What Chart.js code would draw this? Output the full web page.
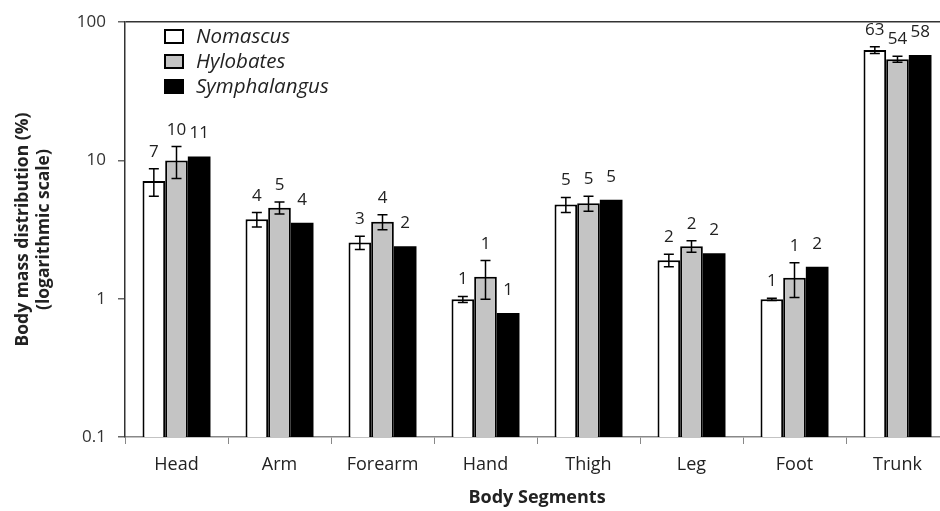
<!DOCTYPE html>
<html>
<head>
<meta charset="utf-8">
<script src="https://cdn.jsdelivr.net/npm/chart.js@4.4.1/dist/chart.umd.min.js"></script>
<style>
  html, body { margin: 0; padding: 0; background: #fff; }
  #wrap { width: 940px; height: 511px; overflow: hidden; }
</style>
</head>
<body>
<div id="wrap"><canvas id="chart" width="960" height="511"></canvas></div>
<script>
const categories = ["Head", "Arm", "Forearm", "Hand", "Thigh", "Leg", "Foot", "Trunk"];
const nomascus = [7.1, 3.75, 2.55, 0.99, 4.8, 1.9, 0.99, 63];
const hylobates = [10.0, 4.55, 3.6, 1.44, 4.9, 2.4, 1.42, 54];
const symphalangus = [10.7, 3.55, 2.4, 0.79, 5.2, 2.13, 1.7, 58];
const nomascusErr = [1.6, 0.45, 0.28, 0.05, 0.6, 0.2, 0.02, 3.5];
const hylobatesErr = [2.6, 0.45, 0.45, 0.45, 0.6, 0.23, 0.4, 2.7];
const symphalangusErr = [0, 0, 0, 0, 0, 0, 0, 0];
const yTicks = [0.1, 1, 10, 100];

const FONT = "'Open Sans', sans-serif";
const errors = [nomascusErr, hylobatesErr, symphalangusErr];

// error bars, value labels and the legend inside the plot
const annotate = {
  id: "annotate",
  afterDatasetsDraw(chart) {
    const ctx = chart.ctx;
    const y = chart.scales.y;
    ctx.save();
    chart.data.datasets.forEach((ds, i) => {
      const meta = chart.getDatasetMeta(i);
      meta.data.forEach((bar, j) => {
        const v = ds.data[j];
        const e = errors[i][j];
        let top = y.getPixelForValue(v);
        if (e > 0) {
          const hi = y.getPixelForValue(v + e);
          const lo = y.getPixelForValue(v - e);
          ctx.strokeStyle = "#000";
          ctx.lineWidth = 1.5;
          ctx.beginPath();
          ctx.moveTo(bar.x, hi); ctx.lineTo(bar.x, lo);
          ctx.moveTo(bar.x - 5, hi); ctx.lineTo(bar.x + 5, hi);
          ctx.moveTo(bar.x - 5, lo); ctx.lineTo(bar.x + 5, lo);
          ctx.stroke();
          top = Math.min(top, hi) + 6;
        }
        ctx.fillStyle = "#222";
        ctx.font = "17px " + FONT;
        ctx.textAlign = "center";
        ctx.textBaseline = "alphabetic";
        ctx.fillText(String(Math.round(v)), bar.x, top - 18);
      });
    });

    chart.data.datasets.forEach((ds, i) => {
      const cy = 37 + i * 25;
      ctx.fillStyle = ds.backgroundColor;
      ctx.fillRect(165, cy - 7, 18, 13);
      ctx.strokeStyle = "#000";
      ctx.lineWidth = 2;
      ctx.strokeRect(165, cy - 7, 18, 13);
      ctx.fillStyle = "#222";
      ctx.font = "italic 20.5px " + FONT;
      ctx.textAlign = "left";
      ctx.textBaseline = "middle";
      ctx.fillText(ds.label, 196, cy);
    });
    ctx.restore();
  }
};

new Chart(document.getElementById("chart"), {
  type: "bar",
  data: {
    labels: categories,
    datasets: [
      { label: "Nomascus", data: nomascus, backgroundColor: "#ffffff", borderColor: "#000", borderWidth: 2 },
      { label: "Hylobates", data: hylobates, backgroundColor: "#c4c4c4", borderColor: "#000", borderWidth: 2 },
      { label: "Symphalangus", data: symphalangus, backgroundColor: "#000000", borderColor: "#000", borderWidth: 0 }
    ]
  },
  options: {
    responsive: false,
    animation: false,
    devicePixelRatio: 1,
    categoryPercentage: 0.66,
    barPercentage: 1.0,
    layout: { padding: { top: 19, right: 11, left: 0, bottom: 0 } },
    plugins: { legend: { display: false }, tooltip: { enabled: false } },
    scales: {
      x: {
        afterFit(scale) { scale.height = 74; },
        grid: { offset: true, drawOnChartArea: false, tickLength: 7, color: "#888" },
        border: { color: "#888", width: 1.5 },
        ticks: { color: "#222", font: { family: FONT, size: 18 }, padding: 10 },
        title: {
          display: true, text: "Body Segments", color: "#222",
          font: { family: FONT, size: 18, weight: "bold" }, padding: { top: 0, bottom: 2 }
        }
      },
      y: {
        type: "logarithmic",
        min: 0.1,
        max: 100,
        afterFit(scale) { scale.width = 125; },
        afterBuildTicks(scale) { scale.ticks = yTicks.map(v => ({ value: v })); },
        grid: {
          drawOnChartArea: true,
          tickLength: 7,
          color: (c) => (c.tick && c.tick.value === 100 ? "#333" : "rgba(0,0,0,0)"),
          tickColor: "#666",
          lineWidth: 1.5
        },
        border: { color: "#333", width: 1.5 },
        ticks: {
          color: "#333",
          font: { family: FONT, size: 17 },
          padding: 12,
          callback: (v) => String(v)
        },
        title: {
          display: true,
          text: ["Body mass distribution (%)", "(logarithmic scale)"],
          color: "#222",
          font: { family: FONT, size: 17.5, weight: "bold", lineHeight: 1.2 },
          padding: { top: 13, bottom: 0 }
        }
      }
    }
  },
  plugins: [annotate]
});
</script>
</body>
</html>
